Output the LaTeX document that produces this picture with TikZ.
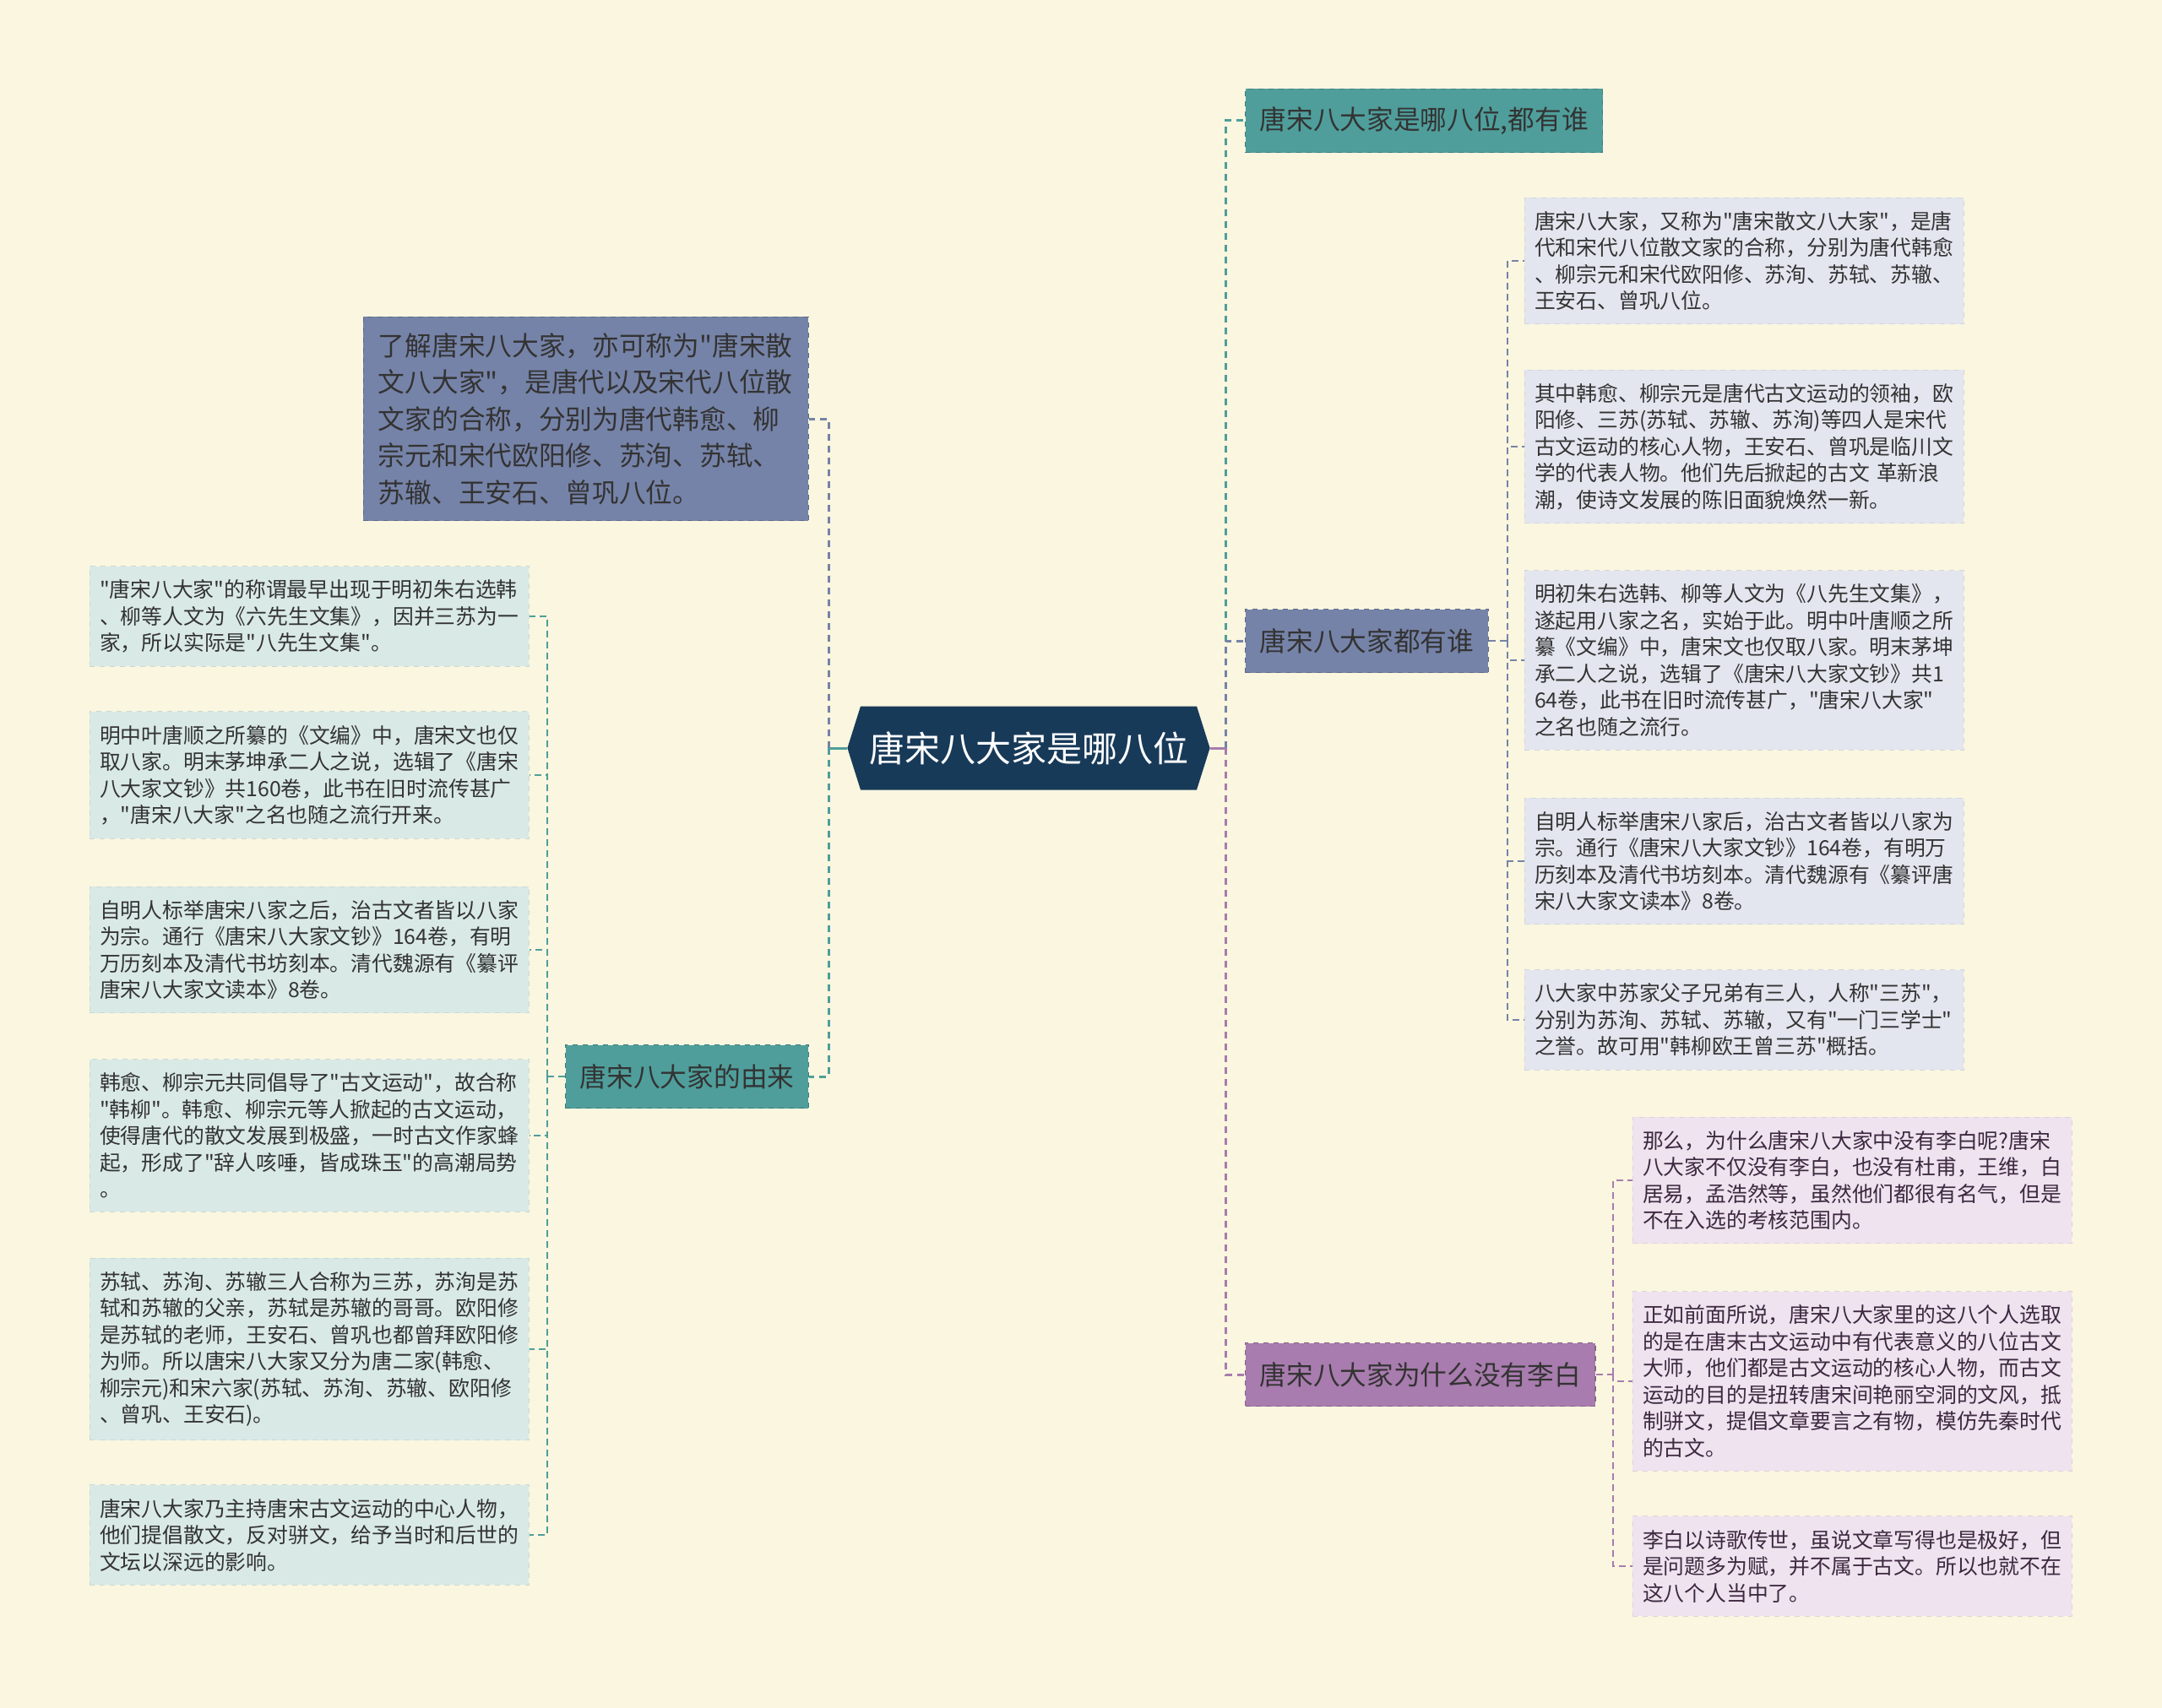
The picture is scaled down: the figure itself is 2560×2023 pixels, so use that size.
\documentclass[tikz,border=0pt]{standalone}
\usepackage{fontspec}
\usepackage{tikz}
\usetikzlibrary{positioning, shapes.symbols, calc}
\newfontfamily\cjk{Noto Sans CJK SC}
\definecolor{bgcol}{HTML}{FAF6DF}
\definecolor{rootcol}{HTML}{183A59}
\definecolor{tealcol}{HTML}{4F9E9B}
\definecolor{slatecol}{HTML}{7683A8}
\definecolor{purpcol}{HTML}{A87CAE}
\definecolor{tealleaf}{HTML}{D9E9E6}
\definecolor{slateleaf}{HTML}{E3E6EF}
\definecolor{purpleaf}{HTML}{EEE3EE}
\definecolor{textcol}{HTML}{333333}
\definecolor{purptext}{HTML}{3D2840}

\begin{document}
\begin{tikzpicture}[
    x=0.5pt, y=-0.5pt,
    topic/.style={signal, signal to=east and west, signal pointer angle=145,
        fill=rootcol, text=white, minimum height=49.5pt, inner xsep=5pt,
        font=\cjk\fontsize{21pt}{25pt}\selectfont},
    branch/.style={rectangle, draw=#1!80!black, fill=#1, dashed, line width=0.6pt,
        minimum height=37.5pt, inner xsep=8.5pt, text=textcol,
        font=\cjk\fontsize{15.85pt}{19pt}\selectfont},
    bigbox/.style={rectangle, draw=slatecol!80!black, fill=slatecol, dashed, line width=0.6pt,
        text width=246pt, align=left, inner xsep=8.75pt, inner ysep=9.25pt, text=textcol,
        font=\cjk\fontsize{15.85pt}{21.8pt}\selectfont},
    leaf/.style={rectangle, draw=#1!93!black, fill=#1, dashed, line width=0.5pt,
        text width=248pt, align=left, inner xsep=6pt, inner ysep=8pt, text=textcol,
        font=\cjk\fontsize{12.4pt}{15.75pt}\selectfont},
    stem/.style={line width=1.5pt},
    link/.style={line width=1.5pt, dash pattern=on 4pt off 3pt},
    sublink/.style={line width=0.9pt, dash pattern=on 4pt off 2.5pt}
]
    \useasboundingbox[fill=bgcol] (0,0) rectangle (2560,2023);

    % centre
    \node[topic] (root) at (1218,886) {唐宋八大家是哪八位};
    \coordinate (rj) at (1451,886);
    \coordinate (lj) at (981,886);

    % right branches
    \node[branch=tealcol, anchor=west] (who) at (1474,143) {唐宋八大家是哪八位,都有谁};
    \node[branch=slatecol, anchor=west] (list) at (1474,759) {唐宋八大家都有谁};
    \node[branch=purpcol, anchor=west] (why) at (1474,1628) {唐宋八大家为什么没有李白};

    % left branches
    \node[bigbox, anchor=east] (intro) at (958,496) {了解唐宋八大家，亦可称为"唐宋散\\文八大家"，是唐代以及宋代八位散\\文家的合称，分别为唐代韩愈、柳\\宗元和宋代欧阳修、苏洵、苏轼、\\苏辙、王安石、曾巩八位。};
    \node[branch=tealcol, anchor=east] (origin) at (958,1275) {唐宋八大家的由来};

    % leaves of list
    \node[leaf=slateleaf] (w1) at (2065,309) {唐宋八大家，又称为"唐宋散文八大家"，是唐\\代和宋代八位散文家的合称，分别为唐代韩愈\\、柳宗元和宋代欧阳修、苏洵、苏轼、苏辙、\\王安石、曾巩八位。};
    \node[leaf=slateleaf] (w2) at (2065,529) {其中韩愈、柳宗元是唐代古文运动的领袖，欧\\阳修、三苏(苏轼、苏辙、苏洵)等四人是宋代\\古文运动的核心人物，王安石、曾巩是临川文\\学的代表人物。他们先后掀起的古文 革新浪\\潮，使诗文发展的陈旧面貌焕然一新。};
    \node[leaf=slateleaf] (w3) at (2065,782) {明初朱右选韩、柳等人文为《八先生文集》，\\遂起用八家之名，实始于此。明中叶唐顺之所\\纂《文编》中，唐宋文也仅取八家。明末茅坤\\承二人之说，选辑了《唐宋八大家文钞》共1\\64卷，此书在旧时流传甚广，"唐宋八大家"\\之名也随之流行。};
    \node[leaf=slateleaf] (w4) at (2065,1020) {自明人标举唐宋八家后，治古文者皆以八家为\\宗。通行《唐宋八大家文钞》164卷，有明万\\历刻本及清代书坊刻本。清代魏源有《纂评唐\\宋八大家文读本》8卷。};
    \node[leaf=slateleaf] (w5) at (2065,1208) {八大家中苏家父子兄弟有三人，人称"三苏"，\\分别为苏洵、苏轼、苏辙，又有"一门三学士"\\之誉。故可用"韩柳欧王曾三苏"概括。};

    % leaves of why
    \node[leaf=purpleaf, text=purptext] (p1) at (2193,1398) {那么，为什么唐宋八大家中没有李白呢?唐宋\\八大家不仅没有李白，也没有杜甫，王维，白\\居易，孟浩然等，虽然他们都很有名气，但是\\不在入选的考核范围内。};
    \node[leaf=purpleaf, text=purptext] (p2) at (2193,1636) {正如前面所说，唐宋八大家里的这八个人选取\\的是在唐末古文运动中有代表意义的八位古文\\大师，他们都是古文运动的核心人物，而古文\\运动的目的是扭转唐宋间艳丽空洞的文风，抵\\制骈文，提倡文章要言之有物，模仿先秦时代\\的古文。};
    \node[leaf=purpleaf, text=purptext] (p3) at (2193,1855) {李白以诗歌传世，虽说文章写得也是极好，但\\是问题多为赋，并不属于古文。所以也就不在\\这八个人当中了。};

    % leaves of origin
    \node[leaf=tealleaf] (o1) at (366,730) {"唐宋八大家"的称谓最早出现于明初朱右选韩\\、柳等人文为《六先生文集》，因并三苏为一\\家，所以实际是"八先生文集"。};
    \node[leaf=tealleaf] (o2) at (366,918) {明中叶唐顺之所纂的《文编》中，唐宋文也仅\\取八家。明末茅坤承二人之说，选辑了《唐宋\\八大家文钞》共160卷，此书在旧时流传甚广\\，"唐宋八大家"之名也随之流行开来。};
    \node[leaf=tealleaf] (o3) at (366,1125) {自明人标举唐宋八家之后，治古文者皆以八家\\为宗。通行《唐宋八大家文钞》164卷，有明\\万历刻本及清代书坊刻本。清代魏源有《纂评\\唐宋八大家文读本》8卷。};
    \node[leaf=tealleaf] (o4) at (366,1345) {韩愈、柳宗元共同倡导了"古文运动"，故合称\\"韩柳"。韩愈、柳宗元等人掀起的古文运动，\\使得唐代的散文发展到极盛，一时古文作家蜂\\起，形成了"辞人咳唾，皆成珠玉"的高潮局势\\。};
    \node[leaf=tealleaf] (o5) at (366,1598) {苏轼、苏洵、苏辙三人合称为三苏，苏洵是苏\\轼和苏辙的父亲，苏轼是苏辙的哥哥。欧阳修\\是苏轼的老师，王安石、曾巩也都曾拜欧阳修\\为师。所以唐宋八大家又分为唐二家(韩愈、\\柳宗元)和宋六家(苏轼、苏洵、苏辙、欧阳修\\、曾巩、王安石)。};
    \node[leaf=tealleaf] (o6) at (366,1818) {唐宋八大家乃主持唐宋古文运动的中心人物，\\他们提倡散文，反对骈文，给予当时和后世的\\文坛以深远的影响。};

    % links
    \draw[stem, purpcol] (root.east) -- (rj);
    \draw[link, tealcol] (rj) |- (who.west);
    \draw[link, slatecol] (rj) |- (list.west);
    \draw[link, purpcol] (rj) |- (why.west);
    \draw[stem, tealcol] (root.west) -- (lj);
    \draw[link, slatecol] (lj) |- (intro.east);
    \draw[link, tealcol] (lj) |- (origin.east);

    \coordinate (wj) at (1785,759);
    \draw[sublink, slatecol] (list.east) -- (wj);
    \foreach \n in {w1,w2,w3,w4,w5}
        \draw[sublink, slatecol] (wj) |- (\n.west);

    \coordinate (pj) at (1910,1628);
    \draw[sublink, purpcol] (why.east) -- (pj);
    \foreach \n in {p1,p2,p3}
        \draw[sublink, purpcol] (pj) |- (\n.west);

    \coordinate (oj) at (648,1275);
    \draw[sublink, tealcol] (origin.west) -- (oj);
    \foreach \n in {o1,o2,o3,o4,o5,o6}
        \draw[sublink, tealcol] (oj) |- (\n.east);
\end{tikzpicture}
\end{document}
